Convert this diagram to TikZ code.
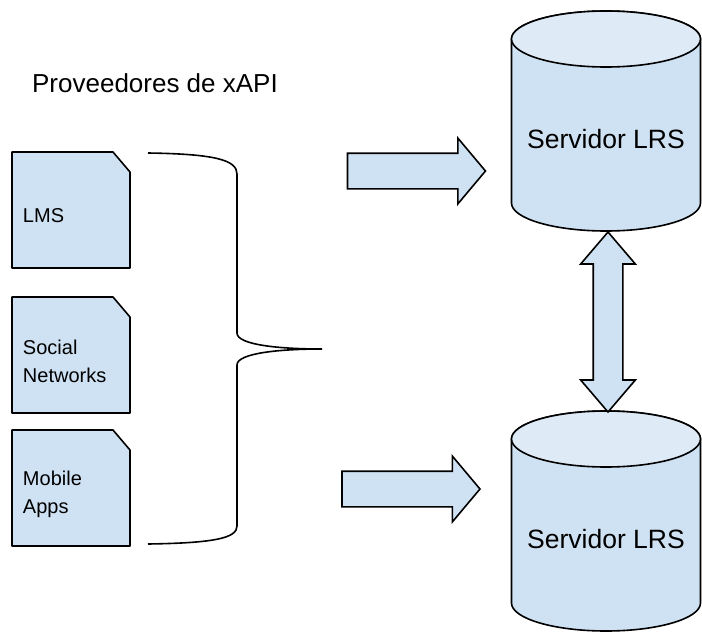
\documentclass[tikz,border=0pt]{standalone}
\usepackage{fontspec}
\setmainfont{Liberation Sans}
\usetikzlibrary{shapes.arrows,backgrounds}
\definecolor{boxblue}{HTML}{CFE2F3}
\definecolor{topblue}{HTML}{DEEAF6}

\begin{document}
\begin{tikzpicture}[x=1pt,y=1pt,line width=1.6pt,
    src/.style={text width=96pt,align=left,inner sep=0pt,font=\fontsize{20}{28}\selectfont},
    srv/.style={inner sep=0pt,font=\fontsize{26.5}{30}\selectfont},
    shell/.style={draw,fill=#1,line width=1.6pt,line join=round},
    flow/.style={draw,fill=boxblue,single arrow,single arrow head extend=15pt,single arrow tip angle=100,
      minimum height=138pt,minimum width=64pt,inner xsep=0pt,inner ysep=17pt}]
  \useasboundingbox (0,0) rectangle (702,-632);
  \node[anchor=west,font=\fontsize{26}{30}\selectfont] (title) at (28,-83) {Proveedores de xAPI};
  \node[src] (lms) at (71,-216) {LMS};
  \node[src] (social) at (71,-361) {Social\\Networks};
  \node[src] (mobile) at (71,-494) {Mobile\\Apps};
  \node[srv] (lrsA) at (606,-139) {Servidor LRS};
  \node[srv] (lrsB) at (606,-539) {Servidor LRS};
  \begin{scope}[on background layer]
    \foreach \n in {lms,social,mobile}
      \path[shell=boxblue] ([shift={(-59,-52)}]\n.center) -- ([shift={(-59,64)}]\n.center)
        -- ([shift={(42,64)}]\n.center) -- ([shift={(59,44)}]\n.center) -- ([shift={(59,-52)}]\n.center) -- cycle;
    \foreach \n in {lrsA,lrsB} {
      \path[shell=boxblue] ([shift={(-94.5,100)}]\n.center) -- ([shift={(-94.5,-64)}]\n.center)
        arc[start angle=180,end angle=360,x radius=94.5,y radius=28] -- ([shift={(94.5,100)}]\n.center)
        arc[start angle=0,end angle=180,x radius=94.5,y radius=28] -- cycle;
      \path[shell=topblue] ([shift={(0,100)}]\n.center) ellipse[x radius=94.5,y radius=28];
    }
  \end{scope}
  \draw (148,-153) .. controls (215,-154) and (237,-160) .. (237,-174) -- (237,-333)
    .. controls (237,-345) and (280,-349) .. (322,-349)
    .. controls (280,-349) and (237,-353) .. (237,-365) -- (237,-526)
    .. controls (237,-538) and (215,-543) .. (148,-544);
  \node[flow] (inA) at (409,-171) {};
  \node[flow] (inB) at (403.5,-489) {};
  \node[draw,fill=boxblue,double arrow,rotate=90,double arrow head extend=12.5pt,double arrow tip angle=81,
    minimum height=180pt,minimum width=53pt,inner xsep=0pt,inner ysep=14pt] (sync) at (608,-322) {};
\end{tikzpicture}
\end{document}
